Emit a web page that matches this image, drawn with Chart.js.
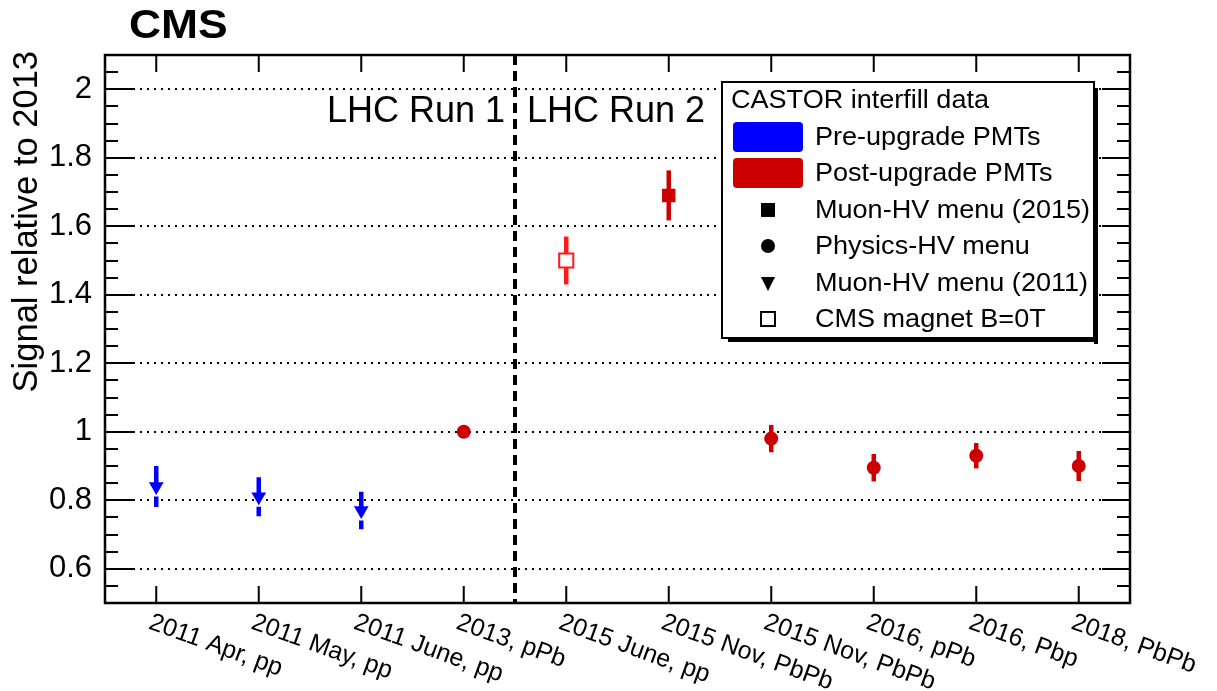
<!DOCTYPE html>
<html><head><meta charset="utf-8">
<script src="https://cdn.jsdelivr.net/npm/chart.js@4/dist/chart.umd.min.js"></script>
<style>html,body{margin:0;padding:0;background:#fff}#wrap{width:1217px;height:691px}</style>
</head><body><div id="wrap"><canvas id="c" width="1217" height="691"></canvas></div>
<script>
// ---- data ----
const categories = ['2011 Apr, pp','2011 May, pp','2011 June, pp','2013, pPb','2015 June, pp','2015 Nov, PbPb','2015 Nov, PbPb','2016, pPb','2016, Pbp','2018, PbPb'];
const preMuon2011      = [0.84, 0.81, 0.77, null, null, null, null, null, null, null];
const preMuon2011Err   = [0.06, 0.057, 0.055, 0, 0, 0, 0, 0, 0, 0];
const postPhysics      = [null, null, null, 1.00, null, null, 0.98, 0.895, 0.93, 0.90];
const postPhysicsErr   = [0, 0, 0, 0, 0, 0, 0.04, 0.04, 0.037, 0.044];
const postMuon2015     = [null, null, null, null, null, 1.69, null, null, null, null];
const postMuon2015Err  = [0, 0, 0, 0, 0, 0.073, 0, 0, 0, 0];
const magnetOff        = [null, null, null, null, 1.50, null, null, null, null, null];
const magnetOffErr     = [0, 0, 0, 0, 0.07, 0, 0, 0, 0, 0];
const yTicks = [0.6, 0.8, 1.0, 1.2, 1.4, 1.6, 1.8, 2.0];
const yMinorStep = 0.05;
const runLabels = ['LHC Run 1', 'LHC Run 2'];
const runBoundary = 3.5; // between 2013 and 2015 June
const legendTitle = 'CASTOR interfill data';
const legendLabels = ['Pre-upgrade PMTs','Post-upgrade PMTs','Muon-HV menu (2015)','Physics-HV menu','Muon-HV menu (2011)','CMS magnet B=0T'];
const experiment = 'CMS';
const yTitle = 'Signal relative to 2013';

const BLUE = '#0000ff', RED = '#cc0000', LRED = '#ff1a1a';
const FONT = "'Liberation Sans', Arial, Helvetica, sans-serif";

function txt(ctx, s, x, y, font, o) {
  o = o || {};
  ctx.save();
  ctx.font = font; ctx.fillStyle = '#000';
  ctx.textAlign = o.align || 'left';
  ctx.textBaseline = o.base || 'alphabetic';
  ctx.translate(x, y);
  if (o.rot) ctx.rotate(o.rot);
  if (o.sx) ctx.scale(o.sx, 1);
  ctx.fillText(s, 0, 0);
  ctx.restore();
}

const errorBars = {
  id: 'errorBars',
  beforeDatasetsDraw(chart) {
    const ctx = chart.ctx, xs = chart.scales.x, ys = chart.scales.y;
    chart.data.datasets.forEach(ds => {
      if (!ds.errors) return;
      ctx.save();
      ctx.strokeStyle = ds.errColor; ctx.lineWidth = 4.5; ctx.lineCap = 'butt';
      ds.data.forEach((v, i) => {
        const e = ds.errors[i];
        if (v == null || !e) return;
        const x = xs.getPixelForValue(i);
        const yc = ys.getPixelForValue(v), yt = ys.getPixelForValue(v + e), yb = ys.getPixelForValue(v - e);
        ctx.beginPath();
        if (ds.errGap) {
          ctx.moveTo(x, yt); ctx.lineTo(x, yc);
          ctx.moveTo(x, yc + ds.errGap); ctx.lineTo(x, yb);
        } else {
          ctx.moveTo(x, yt); ctx.lineTo(x, yb);
        }
        ctx.stroke();
      });
      ctx.restore();
    });
  }
};

const decorations = {
  id: 'decorations',
  afterDatasetsDraw(chart) {
    const ctx = chart.ctx, a = chart.chartArea, xs = chart.scales.x, ys = chart.scales.y;
    ctx.save();
    const xb = xs.getPixelForValue(runBoundary);
    ctx.strokeStyle = '#000'; ctx.lineWidth = 4; ctx.setLineDash([10, 6]);
    ctx.beginPath(); ctx.moveTo(xb, a.top); ctx.lineTo(xb, a.bottom); ctx.stroke();
    ctx.setLineDash([]);
    ctx.lineWidth = 2;
    ctx.beginPath();
    const ymin = ys.min, ymax = ys.max;
    for (let k = Math.ceil(ymin / yMinorStep - 1e-6); k * yMinorStep <= ymax + 1e-9; k++) {
      const v = k * yMinorStep;
      const major = yTicks.some(t => Math.abs(t - v) < 1e-6);
      const len = major ? 28 : 13;
      const y = Math.round(ys.getPixelForValue(v));
      ctx.moveTo(a.left, y); ctx.lineTo(a.left + len, y);
      ctx.moveTo(a.right, y); ctx.lineTo(a.right - len, y);
    }
    categories.forEach((c, i) => {
      const x = xs.getPixelForValue(i);
      ctx.moveTo(x, a.bottom); ctx.lineTo(x, a.bottom - 17);
      ctx.moveTo(x, a.top); ctx.lineTo(x, a.top + 17);
    });
    ctx.stroke();
    ctx.lineWidth = 2.5;
    ctx.strokeRect(a.left, a.top, a.right - a.left, a.bottom - a.top);
    ctx.restore();

    categories.forEach((c, i) => {
      const x = xs.getPixelForValue(i);
      txt(ctx, c, x - 2, a.bottom + 7, '25px ' + FONT, {rot: 20 * Math.PI / 180, base: 'top'});
    });
    txt(ctx, yTitle, 37, 51, '34.5px ' + FONT, {rot: -Math.PI / 2, align: 'right'});
    txt(ctx, experiment, 129, 38, 'bold 40px ' + FONT, {sx: 1.11});
    txt(ctx, runLabels[0], xb - 10, 122, '36px ' + FONT, {align: 'right'});
    txt(ctx, runLabels[1], xb + 12, 122, '36px ' + FONT, {align: 'left'});

    const L = {x: 722, y: 82, w: 372, h: 256};
    ctx.save();
    ctx.fillStyle = '#000';
    ctx.fillRect(L.x + L.w, L.y + 6, 4, L.h);
    ctx.fillRect(L.x + 6, L.y + L.h, L.w - 2, 4);
    ctx.fillStyle = '#fff'; ctx.fillRect(L.x, L.y, L.w, L.h);
    ctx.strokeStyle = '#000'; ctx.lineWidth = 2; ctx.strokeRect(L.x, L.y, L.w, L.h);
    ctx.restore();
    const lf = '26px ' + FONT;
    txt(ctx, legendTitle, 731, 101, lf, {base: 'middle', sx: 1.04});
    const rows = [137, 173, 210, 246, 283, 319];
    const mx = 768, tx = 815;
    function rrect(x, y, w, h, r, col) {
      ctx.save(); ctx.fillStyle = col; ctx.beginPath();
      ctx.moveTo(x + r, y); ctx.lineTo(x + w - r, y); ctx.quadraticCurveTo(x + w, y, x + w, y + r);
      ctx.lineTo(x + w, y + h - r); ctx.quadraticCurveTo(x + w, y + h, x + w - r, y + h);
      ctx.lineTo(x + r, y + h); ctx.quadraticCurveTo(x, y + h, x, y + h - r);
      ctx.lineTo(x, y + r); ctx.quadraticCurveTo(x, y, x + r, y); ctx.fill(); ctx.restore();
    }
    rrect(733, rows[0] - 15, 70, 30, 4, BLUE);
    rrect(733, rows[1] - 15, 70, 30, 4, RED);
    ctx.save(); ctx.fillStyle = '#000';
    ctx.fillRect(mx - 7, rows[2] - 7, 14, 14);
    ctx.beginPath(); ctx.arc(mx, rows[3], 7, 0, 2 * Math.PI); ctx.fill();
    ctx.beginPath(); ctx.moveTo(mx - 7, rows[4] - 6); ctx.lineTo(mx + 7, rows[4] - 6); ctx.lineTo(mx, rows[4] + 8); ctx.closePath(); ctx.fill();
    ctx.lineWidth = 2; ctx.strokeStyle = '#000'; ctx.strokeRect(mx - 7, rows[5] - 7, 14, 14);
    ctx.restore();
    legendLabels.forEach((s, i) => txt(ctx, s, tx, rows[i] + 1, lf, {base: 'middle', sx: 1.04}));
  }
};

new Chart(document.getElementById('c'), {
  type: 'line',
  data: {
    labels: categories,
    datasets: [
      {label: 'Pre-upgrade, Muon-HV (2011)', data: preMuon2011, errors: preMuon2011Err, errColor: BLUE, errGap: 10,
       showLine: false, pointStyle: 'triangle', rotation: 180, pointRadius: 8.5, pointBackgroundColor: BLUE, pointBorderColor: BLUE, pointBorderWidth: 0},
      {label: 'Post-upgrade, Physics-HV', data: postPhysics, errors: postPhysicsErr, errColor: RED,
       showLine: false, pointStyle: 'circle', pointRadius: 7, pointBackgroundColor: RED, pointBorderColor: RED, pointBorderWidth: 0},
      {label: 'Post-upgrade, Muon-HV (2015)', data: postMuon2015, errors: postMuon2015Err, errColor: RED,
       showLine: false, pointStyle: 'rect', pointRadius: 9.5, pointBackgroundColor: RED, pointBorderColor: RED, pointBorderWidth: 0},
      {label: 'CMS magnet B=0T', data: magnetOff, errors: magnetOffErr, errColor: LRED,
       showLine: false, pointStyle: 'rect', pointRadius: 10, pointBackgroundColor: '#fff', pointBorderColor: LRED, pointBorderWidth: 2}
    ]
  },
  options: {
    responsive: false, animation: false,
    layout: {padding: {left: 0, top: 55, right: 87, bottom: 88}},
    plugins: {legend: {display: false}, tooltip: {enabled: false}},
    scales: {
      x: {type: 'category', offset: true, grid: {display: false}, border: {display: false},
          ticks: {display: false}, afterFit(s) { s.height = 0; }},
      y: {type: 'linear', min: 0.5, max: 2.1,
          afterBuildTicks(s) { s.ticks = yTicks.map(v => ({value: v})); },
          afterFit(s) { s.width = 105; },
          grid: {color: '#000', lineWidth: 2, drawTicks: false},
          border: {display: false, dash: [2, 5]},
          ticks: {color: '#000', padding: 13, font: {family: FONT, size: 31},
                  callback: v => String(Math.round(v * 10) / 10)}}
    }
  },
  plugins: [errorBars, decorations]
});
</script></body></html>
